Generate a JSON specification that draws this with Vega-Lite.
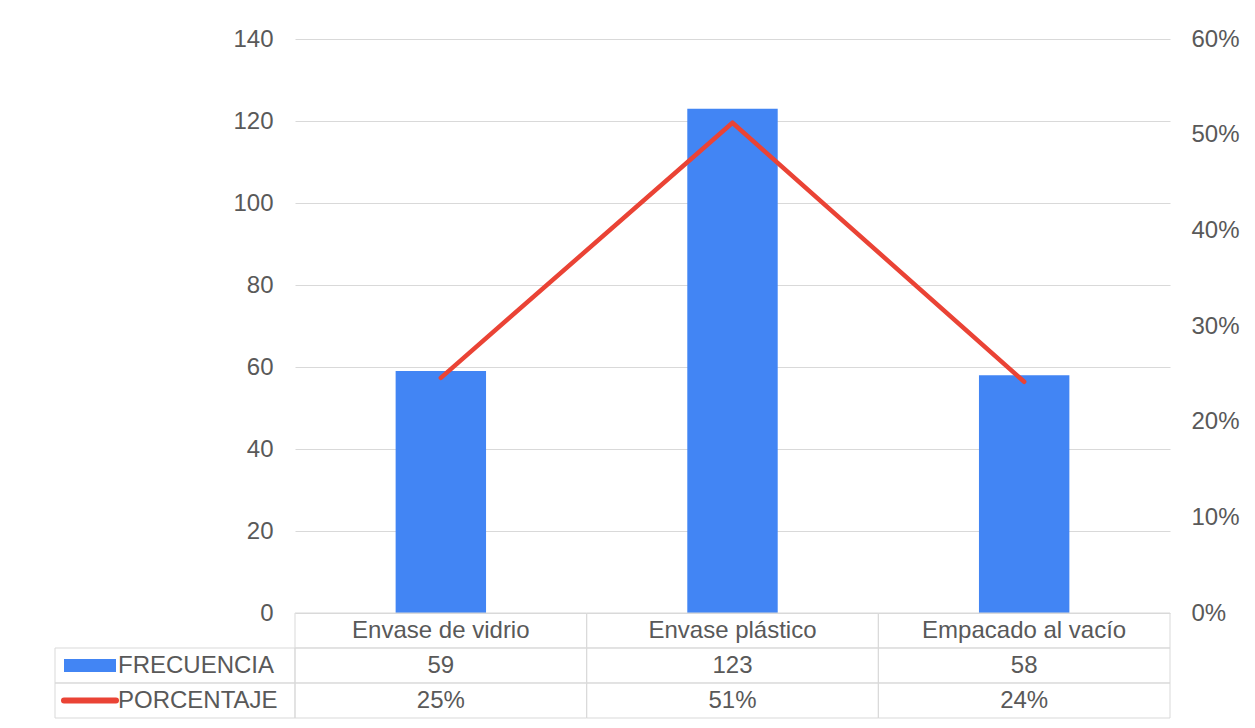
{
  "$schema": "https://vega.github.io/schema/vega-lite/v6.json",
  "background": "#ffffff",
  "padding": {"left": 54, "top": 27, "right": 10, "bottom": 10},
  "config": {
    "font": "Liberation Sans",
    "axis": {"labelFont": "Liberation Sans", "labelFontSize": 24, "labelColor": "#595959"},
    "legend": {"labelOffset": 16, "symbolOffset": 5},
    "text": {"font": "Liberation Sans", "fontSize": 24, "color": "#595959"}
  },
  "data": {
    "values": [
      {"categoria": "Envase de vidrio", "frecuencia": 59, "porcentaje": 0.2458},
      {"categoria": "Envase plástico", "frecuencia": 123, "porcentaje": 0.5125},
      {"categoria": "Empacado al vacío", "frecuencia": 58, "porcentaje": 0.2417}
    ]
  },
  "columns": 2,
  "spacing": 0,
  "bounds": "flush",
  "align": "each",
  "concat": [
    {
      "width": 240,
      "height": 574,
      "view": {"stroke": null},
      "data": {"values": []},
      "mark": {"type": "rect", "fill": "transparent"},
      "encoding": {}
    },
    {
      "width": 875,
      "height": 574,
      "view": {"stroke": null},
      "encoding": {
        "x": {
          "field": "categoria",
          "type": "nominal",
          "sort": null,
          "scale": {"paddingInner": 0, "paddingOuter": 0},
          "axis": null
        }
      },
      "layer": [
        {
          "mark": {"type": "bar", "width": {"band": 0.31}},
          "encoding": {
            "y": {
              "field": "frecuencia",
              "type": "quantitative",
              "scale": {"domain": [0, 140]},
              "axis": {
                "orient": "left",
                "title": null,
                "values": [0, 20, 40, 60, 80, 100, 120, 140],
                "grid": true,
                "gridColor": "#d9d9d9",
                "gridWidth": 1,
                "domain": false,
                "ticks": false,
                "labelPadding": 22
              }
            },
            "color": {
              "datum": "FRECUENCIA",
              "type": "nominal",
              "scale": {"domain": ["FRECUENCIA", "PORCENTAJE"], "range": ["#4285f4", "#ea4335"]},
              "legend": {
                "orient": "none",
                "legendX": 18,
                "legendY": 614.5,
                "title": null,
                "direction": "vertical",
                "padding": 0,
                "rowPadding": 11,
                "symbolSize": 2704,
                "symbolStrokeWidth": 6,
                "symbolOffset": 5,
                "labelOffset": 16,
                "labelFont": "Liberation Sans",
                "labelFontSize": 24,
                "labelColor": "#595959",
                "labelLimit": 400,
                "encode": {
                  "symbols": {
                    "update": {
                      "shape": {"signal": "datum.value === 'FRECUENCIA' ? 'M-1,-0.25H1V0.25H-1Z' : 'stroke'"},
                      "fill": {"signal": "datum.value === 'FRECUENCIA' ? '#4285f4' : 'transparent'"},
                      "stroke": {"signal": "datum.value === 'FRECUENCIA' ? 'transparent' : '#ea4335'"},
                      "strokeWidth": {"signal": "datum.value === 'FRECUENCIA' ? 0 : 6"},
                      "strokeCap": {"value": "round"},
                      "opacity": {"value": 1}
                    }
                  }
                }
              }
            }
          }
        },
        {
          "mark": {"type": "line", "strokeWidth": 4.5, "strokeCap": "round", "strokeJoin": "round"},
          "encoding": {
            "y": {
              "field": "porcentaje",
              "type": "quantitative",
              "scale": {"domain": [0, 0.6]},
              "axis": {
                "orient": "right",
                "title": null,
                "format": ".0%",
                "values": [0, 0.1, 0.2, 0.3, 0.4, 0.5, 0.6],
                "grid": false,
                "domain": false,
                "ticks": false,
                "labelPadding": 21
              }
            },
            "color": {"datum": "PORCENTAJE", "type": "nominal"}
          }
        }
      ],
      "resolve": {"scale": {"y": "independent"}}
    },
    {
      "width": 240,
      "height": 105,
      "view": {"stroke": null},
      "data": {"values": [{"serie": "FRECUENCIA"}, {"serie": "PORCENTAJE"}]},
      "mark": {"type": "rect", "fill": "transparent", "stroke": "#d9d9d9", "strokeWidth": 1},
      "encoding": {
        "y": {
          "field": "serie",
          "type": "nominal",
          "scale": {"domain": ["Categoría", "FRECUENCIA", "PORCENTAJE"], "paddingInner": 0, "paddingOuter": 0},
          "axis": null
        }
      }
    },
    {
      "width": 875,
      "height": 105,
      "view": {"stroke": null},
      "encoding": {
        "x": {
          "field": "categoria",
          "type": "nominal",
          "sort": null,
          "scale": {"paddingInner": 0, "paddingOuter": 0},
          "axis": null
        }
      },
      "layer": [
        {
          "mark": {"type": "rect", "fill": "transparent", "stroke": "#d9d9d9", "strokeWidth": 1},
          "encoding": {
            "y": {
              "datum": "Categoría",
              "type": "nominal",
              "scale": {"domain": ["Categoría", "FRECUENCIA", "PORCENTAJE"], "paddingInner": 0, "paddingOuter": 0},
              "axis": null
            }
          }
        },
        {
          "mark": {"type": "rect", "fill": "transparent", "stroke": "#d9d9d9", "strokeWidth": 1},
          "encoding": {"y": {"datum": "FRECUENCIA", "type": "nominal"}}
        },
        {
          "mark": {"type": "rect", "fill": "transparent", "stroke": "#d9d9d9", "strokeWidth": 1},
          "encoding": {"y": {"datum": "PORCENTAJE", "type": "nominal"}}
        },
        {
          "mark": {"type": "text", "baseline": "middle", "align": "center"},
          "encoding": {
            "y": {"datum": "Categoría", "type": "nominal"},
            "text": {"field": "categoria", "type": "nominal"}
          }
        },
        {
          "mark": {"type": "text", "baseline": "middle", "align": "center"},
          "encoding": {
            "y": {"datum": "FRECUENCIA", "type": "nominal"},
            "text": {"field": "frecuencia", "type": "quantitative", "format": "d"}
          }
        },
        {
          "mark": {"type": "text", "baseline": "middle", "align": "center"},
          "encoding": {
            "y": {"datum": "PORCENTAJE", "type": "nominal"},
            "text": {"field": "porcentaje", "type": "quantitative", "format": ".0%"}
          }
        }
      ]
    }
  ]
}
